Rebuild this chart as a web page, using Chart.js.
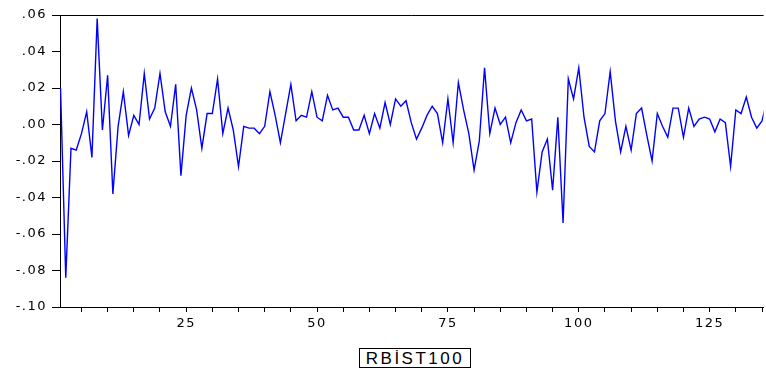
<!DOCTYPE html>
<html>
<head>
<meta charset="utf-8">
<script src="https://cdn.jsdelivr.net/npm/chart.js@4.4.1/dist/chart.umd.min.js"></script>
<style>
  body { margin: 0; background: #fff; }
  #wrap { position: relative; width: 766px; height: 374px; }
  #myChart { position: absolute; left: 0; top: 0; }
  #legend {
    position: absolute; left: 359px; top: 348px; width: 110px; height: 18px;
    border: 1px solid #000; box-sizing: content-box;
    font: 17px "Liberation Sans", Arial, sans-serif; letter-spacing: 2.5px;
    line-height: 19px; text-align: center; color: #000;
  }
</style>
</head>
<body>
<div id="wrap">
  <canvas id="myChart" width="766" height="336"></canvas>
  <div id="legend">RBİST100</div>
</div>
<script>
var rbist100 = [
  0.020, -0.084, -0.013, -0.014, -0.005, 0.007, -0.018, 0.058, -0.003, 0.027,
  -0.038, -0.001, 0.018, -0.006, 0.005, 0.000, 0.028, 0.003, 0.009, 0.028,
  0.007, -0.001, 0.022, -0.028, 0.005, 0.020, 0.008, -0.013, 0.006, 0.006,
  0.025, -0.005, 0.009, -0.003, -0.023, -0.001, -0.002, -0.002, -0.005, -0.001,
  0.018, 0.005, -0.010, 0.006, 0.022, 0.002, 0.005, 0.004, 0.018, 0.004,
  0.002, 0.016, 0.008, 0.009, 0.004, 0.004, -0.003, -0.003, 0.005, -0.005,
  0.006, -0.002, 0.012, 0.000, 0.014, 0.010, 0.013, 0.001, -0.008, -0.002,
  0.005, 0.010, 0.006, -0.010, 0.014, -0.010, 0.023, 0.008, -0.005, -0.025,
  -0.009, 0.031, -0.005, 0.009, 0.000, 0.004, -0.010, 0.001, 0.008, 0.002,
  0.003, -0.037, -0.015, -0.008, -0.036, 0.004, -0.054, 0.025, 0.014, 0.031,
  0.004, -0.012, -0.015, 0.002, 0.006, 0.029, 0.002, -0.015, -0.001, -0.014,
  0.006, 0.009, -0.006, -0.020, 0.006, -0.001, -0.007, 0.009, 0.009, -0.007,
  0.009, -0.001, 0.003, 0.004, 0.003, -0.004, 0.003, 0.001, -0.023, 0.008,
  0.006, 0.015, 0.004, -0.002, 0.002, 0.014
];
// observation numbers 1..n
var obs = rbist100.map(function (v, i) { return i + 1; });

var xTicks = [5, 10, 15, 20, 25, 30, 35, 40, 45, 50, 55, 60, 65, 70, 75, 80, 85,
              90, 95, 100, 105, 110, 115, 120, 125, 130, 135];
var xTickLabels = [25, 50, 75, 100, 125];
var yTicks = [-0.10, -0.08, -0.06, -0.04, -0.02, 0.00, 0.02, 0.04, 0.06];

// eviews-like wide tick text + top frame line
var frame = {
  id: 'frame',
  beforeInit: function (chart) { chart.ctx.letterSpacing = '1.5px'; },
  beforeDraw: function (chart) { chart.ctx.letterSpacing = '1.5px'; },
  afterDraw: function (chart) {
    var a = chart.chartArea, c = chart.ctx;
    c.save();
    c.strokeStyle = '#000';
    c.lineWidth = 1;
    c.beginPath();
    c.moveTo(a.left, Math.round(a.top) + 0.5);
    c.lineTo(a.right, Math.round(a.top) + 0.5);
    c.stroke();
    c.restore();
  }
};

var ctx = document.getElementById('myChart').getContext('2d');
var chart = new Chart(ctx, {
  type: 'line',
  data: {
    datasets: [{
      label: 'RBİST100',
      data: obs.map(function (x, i) { return { x: x, y: rbist100[i] }; }),
      borderColor: '#0000ff',
      borderWidth: 1.4,
      pointRadius: 0,
      tension: 0,
      fill: false
    }]
  },
  options: {
    responsive: false,
    animation: false,
    devicePixelRatio: 1,
    layout: { padding: { top: 15, left: 0, right: 0, bottom: 0 } },
    plugins: { legend: { display: false }, tooltip: { enabled: false } },
    scales: {
      x: {
        type: 'linear',
        min: 0.9,
        max: 135.3,
        afterBuildTicks: function (scale) {
          scale.ticks = xTicks.map(function (v) { return { value: v }; });
        },
        afterFit: function (scale) { scale.height = 29; },
        grid: { drawOnChartArea: false, drawTicks: true, tickLength: 5, color: '#000' },
        border: { display: true, color: '#000', width: 1 },
        ticks: {
          autoSkip: false,
          maxRotation: 0,
          padding: 4,
          color: '#000',
          font: { family: 'DejaVu Sans', size: 13 },
          callback: function (v) { return xTickLabels.indexOf(v) >= 0 ? String(v) : ''; }
        }
      },
      y: {
        min: -0.10,
        max: 0.06,
        afterBuildTicks: function (scale) {
          scale.ticks = yTicks.map(function (v) { return { value: v }; });
        },
        afterFit: function (scale) { scale.width = 60; },
        grid: { drawOnChartArea: false, drawTicks: true, tickLength: 8, color: '#000' },
        border: { display: true, color: '#000', width: 1 },
        ticks: {
          padding: 5,
          color: '#000',
          font: { family: 'DejaVu Sans', size: 13 },
          callback: function (v) { return v.toFixed(2).replace('0.', '.'); }
        }
      }
    }
  },
  plugins: [frame]
});
</script>
</body>
</html>
